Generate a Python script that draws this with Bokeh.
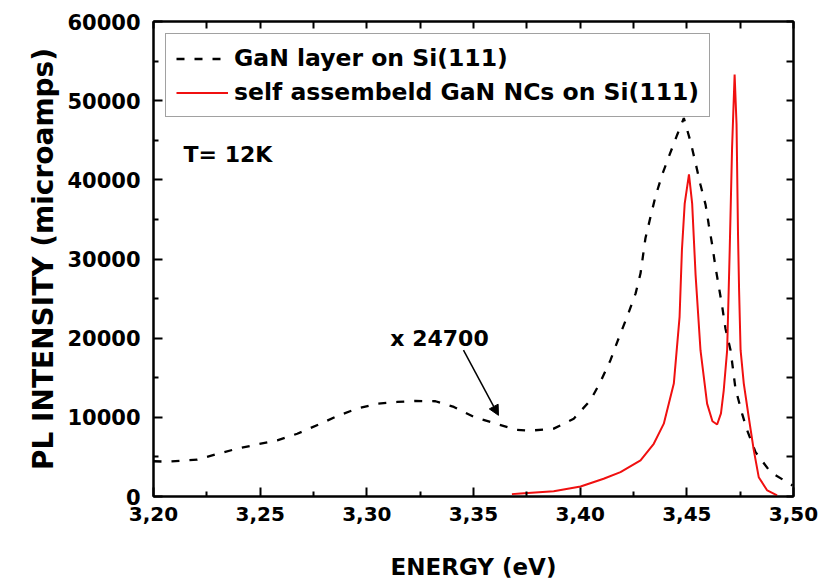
from bokeh.plotting import figure
from bokeh.models import (Range1d, FixedTicker, LinearAxis, Label, Arrow, NormalHead,
                          CustomJSTickFormatter, Legend, LegendItem, CustomLabelingPolicy)
from bokeh.embed import file_html
from bokeh.resources import INLINE

# ---- data ----
gan_energy = [3.200, 3.2064, 3.2205, 3.229, 3.239, 3.2486, 3.258, 3.2674, 3.2775, 3.2869,
              3.2955, 3.3049, 3.3142, 3.3228, 3.3322, 3.3408, 3.3502, 3.3595, 3.3697, 3.3767,
              3.3876, 3.397, 3.4048, 3.4095, 3.4142, 3.4174, 3.422, 3.426, 3.4283, 3.4306,
              3.433, 3.4353, 3.4384, 3.4416, 3.4455, 3.4486, 3.4517, 3.4541, 3.4564, 3.4588,
              3.4603, 3.4619, 3.4634, 3.4666, 3.4681, 3.4705, 3.4728, 3.4759, 3.4783, 3.4822,
              3.4892, 3.4995]
gan_intensity = [4450, 4400, 4650, 5300, 6030, 6580, 7090, 7930, 9110, 10250,
                 11100, 11730, 11940, 12070, 12030, 11310, 10040, 9280, 8440, 8320,
                 8570, 9830, 12150, 14470, 17220, 19540, 22700, 25660, 28190, 32620,
                 35350, 37890, 40630, 42950, 45700, 47800, 44850, 42110, 39370, 36840,
                 34300, 31770, 29030, 23960, 21230, 18480, 13630, 10470, 8350, 5610,
                 3080, 1400]

nc_energy = [3.368, 3.372, 3.3876, 3.4002, 3.411, 3.4189, 3.4283, 3.4345, 3.4392, 3.4439,
             3.4466, 3.4477, 3.4490, 3.4510, 3.4525, 3.4541, 3.4564, 3.4595, 3.4620, 3.4642,
             3.4660, 3.4673, 3.4689, 3.4701, 3.4712, 3.4724, 3.4733, 3.4740, 3.4745, 3.4752,
             3.4767, 3.4790, 3.4814, 3.4837, 3.4877, 3.4923]
nc_intensity = [300, 380, 670, 1270, 2240, 3080, 4560, 6660, 9200, 14260,
                22700, 31140, 37000, 40700, 37000, 28000, 18480, 11730, 9500, 9100,
                10500, 13420, 18480, 31140, 44000, 53300, 47000, 33000, 26000, 18480,
                14260, 10040, 5820, 2440, 760, 130]

x_ticks = [3.20, 3.25, 3.30, 3.35, 3.40, 3.45, 3.50]
x_minor = [3.225, 3.275, 3.325, 3.375, 3.425, 3.475]
y_ticks = [0, 10000, 20000, 30000, 40000, 50000, 60000]
y_minor = [5000, 15000, 25000, 35000, 45000, 55000]

series_labels = ["GaN layer on Si(111)", "self assembeld GaN NCs on Si(111)"]
temp_text = "T= 12K"
scale_text = "x 24700"

FONT = "DejaVu Sans"

p = figure(width=823, height=584, x_range=Range1d(3.2, 3.5), y_range=Range1d(0, 60000),
           output_backend="svg", toolbar_location=None,
           min_border_left=153, min_border_right=30, min_border_top=21, min_border_bottom=88)
p.background_fill_color = "white"
p.border_fill_color = "white"
p.xgrid.visible = False
p.ygrid.visible = False
p.outline_line_color = "black"
p.outline_line_width = 2

r1 = p.line(gan_energy, gan_intensity, line_color="black", line_width=2.3, line_dash="8 10")
r2 = p.line(nc_energy, nc_intensity, line_color="#f01010", line_width=2)

xf = CustomJSTickFormatter(code="return tick.toFixed(2).replace('.', ',');")
yf = CustomJSTickFormatter(code="return tick.toFixed(0);")

def style_main(ax, ticks, minor, fmt, size):
    ax.ticker = FixedTicker(ticks=ticks, minor_ticks=minor)
    ax.formatter = fmt
    ax.axis_line_width = 2
    ax.axis_line_color = "black"
    ax.major_tick_in = 9
    ax.major_tick_out = 0
    ax.minor_tick_in = 5
    ax.minor_tick_out = 0
    ax.major_tick_line_width = 2
    ax.minor_tick_line_width = 2
    ax.major_label_text_font = FONT
    ax.major_label_text_font_style = "bold"
    ax.major_label_text_font_size = size
    ax.major_label_text_color = "black"
    ax.axis_label_text_font = FONT
    ax.axis_label_text_font_style = "bold"
    ax.axis_label_text_color = "black"

xa = p.xaxis[0]
style_main(xa, x_ticks, x_minor, xf, "20px")
xa.major_label_standoff = 10
xa.axis_label = "ENERGY (eV)"
xa.axis_label_text_font_size = "23px"
xa.axis_label_standoff = 30

ya = p.yaxis[0]
style_main(ya, y_ticks, y_minor, yf, "21px")
ya.major_label_standoff = 13
ya.axis_label = "PL INTENSITY (microamps)"
ya.axis_label_text_font_size = "28px"
ya.axis_label_standoff = 4

def mirror(ax, ticks, minor):
    ax.ticker = FixedTicker(ticks=ticks, minor_ticks=minor)
    ax.axis_line_width = 2
    ax.axis_line_color = "black"
    ax.major_tick_in = 7
    ax.major_tick_out = 0
    ax.minor_tick_in = 7
    ax.minor_tick_out = 0
    ax.major_tick_line_width = 2
    ax.minor_tick_line_width = 2
    ax.major_label_text_font_size = "0px"
    ax.major_label_standoff = 0
    ax.major_label_policy = CustomLabelingPolicy(code="for (const i of indices) { indices.unset(i) }")

top = LinearAxis()
mirror(top, x_ticks, x_minor)
p.add_layout(top, "above")
right = LinearAxis()
mirror(right, y_ticks, y_minor)
p.add_layout(right, "right")

legend = Legend(items=[LegendItem(label=series_labels[0], renderers=[r1]),
                       LegendItem(label=series_labels[1], renderers=[r2])],
                location="top_left")
legend.margin = 12
legend.padding = 10
legend.spacing = 6
legend.label_height = 27
legend.glyph_height = 27
legend.glyph_width = 52
legend.label_standoff = 6
legend.label_text_font = FONT
legend.label_text_font_style = "bold"
legend.label_text_font_size = "23.5px"
legend.label_text_color = "black"
legend.border_line_color = "#444444"
legend.border_line_width = 1.5
legend.background_fill_color = "white"
legend.background_fill_alpha = 1
p.add_layout(legend)

p.add_layout(Label(x=3.2141, y=43160, text=temp_text, text_font=FONT, text_font_style="bold",
                   text_font_size="22px", text_baseline="middle", text_color="black"))
p.add_layout(Label(x=3.311, y=20000, text=scale_text, text_font=FONT, text_font_style="bold",
                   text_font_size="22px", text_baseline="middle", text_color="black"))
p.add_layout(Arrow(end=NormalHead(size=10, fill_color="black", line_color="black"),
                   x_start=3.3453, y_start=18480, x_end=3.3617, y_end=10250,
                   line_color="black", line_width=1.5))

open("out.html", "w").write(file_html(p, INLINE))
